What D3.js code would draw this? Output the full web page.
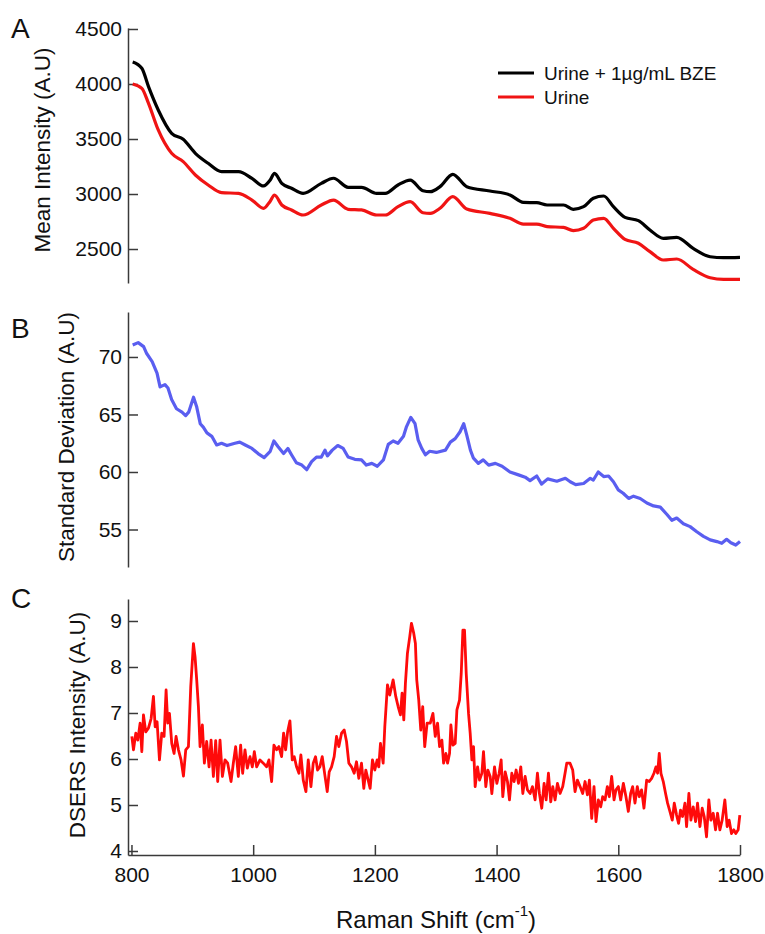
<!DOCTYPE html>
<meta charset="utf-8">
<style>
  body { margin: 0; background: #fff; }
  svg { font-family: "Liberation Sans", Arial, sans-serif; }
  .axis path, .axis line { stroke: #3a3a3a; stroke-width: 1.5; }
  .axis text { font-size: 21px; fill: #111; }
</style>
<svg width="765" height="934"></svg>
<script src="https://cdn.jsdelivr.net/npm/d3@7"></script>
<script>

// ---- panel A: mean spectra ----
var shiftA = [802, 817, 828, 844, 866, 885, 905, 926, 948, 976,
  998, 1017, 1028, 1035, 1047, 1063, 1082, 1112, 1132, 1156,
  1178, 1203, 1217, 1238, 1258, 1279, 1291, 1307, 1328, 1351,
  1389, 1422, 1444, 1466, 1483, 1510, 1526, 1543, 1559, 1576,
  1592, 1611, 1633, 1652, 1674, 1696, 1723, 1751, 1773, 1800];
var meanBZE = [4200, 4143, 3976, 3764, 3552, 3497, 3370, 3279, 3203, 3203,
  3142, 3073, 3127, 3188, 3097, 3052, 3006, 3097, 3143, 3061,
  3061, 3006, 3006, 3082, 3127, 3030, 3021, 3067, 3179, 3067,
  3027, 2991, 2924, 2921, 2900, 2900, 2861, 2885, 2961, 2982,
  2885, 2788, 2758, 2673, 2597, 2606, 2506, 2430, 2421, 2424];
var meanUrine = [4000, 3960, 3824, 3582, 3370, 3294, 3173, 3082, 3012, 3006,
  2945, 2870, 2935, 2991, 2900, 2855, 2809, 2900, 2945, 2861,
  2855, 2809, 2809, 2885, 2930, 2830, 2824, 2870, 2976, 2864,
  2824, 2779, 2727, 2727, 2703, 2697, 2667, 2688, 2764, 2779,
  2688, 2588, 2552, 2476, 2400, 2409, 2315, 2239, 2224, 2224];
var ticksA = [2500, 3000, 3500, 4000, 4500];

// ---- panel B: standard deviation ----
var shiftB = [802, 811, 820, 825, 834, 842, 847, 855, 860, 866,
  874, 883, 889, 894, 902, 907, 913, 918, 924, 932,
  940, 948, 957, 970, 978, 987, 998, 1008, 1018, 1028,
  1034, 1041, 1050, 1057, 1063, 1071, 1080, 1088, 1096, 1104,
  1112, 1118, 1122, 1130, 1139, 1148, 1156, 1167, 1178, 1186,
  1195, 1204, 1214, 1222, 1230, 1238, 1247, 1252, 1259, 1266,
  1271, 1277, 1283, 1290, 1301, 1316, 1324, 1332, 1340, 1346,
  1351, 1357, 1362, 1370, 1378, 1387, 1398, 1409, 1422, 1436,
  1447, 1455, 1466, 1474, 1484, 1499, 1513, 1521, 1530, 1543,
  1554, 1559, 1567, 1576, 1584, 1592, 1600, 1608, 1617, 1625,
  1636, 1647, 1658, 1669, 1680, 1688, 1696, 1707, 1718, 1729,
  1740, 1751, 1762, 1770, 1778, 1785, 1793, 1800];
var stdDev = [71.04, 71.25, 70.9, 70.3, 69.6, 68.6, 67.4, 67.6, 67.3, 66.3,
  65.5, 65.2, 64.9, 65.2, 66.5, 65.7, 64.2, 63.9, 63.4, 63.1,
  62.35, 62.5, 62.3, 62.5, 62.6, 62.35, 62.05, 61.6, 61.25, 61.8,
  62.7, 62.2, 61.6, 62.05, 61.5, 60.8, 60.6, 60.2, 60.9, 61.3,
  61.3, 61.9, 61.4, 61.9, 62.3, 62.05, 61.3, 61.1, 61.05, 60.6,
  60.75, 60.5, 61.05, 62.4, 62.7, 62.5, 63.1, 63.95, 64.75, 64.2,
  62.8, 62.05, 61.5, 61.8, 61.7, 61.9, 62.6, 62.9, 63.5, 64.2,
  63.2, 61.9, 61.2, 60.75, 61.05, 60.6, 60.75, 60.5, 60.0, 59.75,
  59.55, 59.25, 59.65, 58.95, 59.4, 59.2, 59.45, 59.15, 58.9, 59.0,
  59.45, 59.3, 60.0, 59.6, 59.65, 59.15, 58.45, 58.15, 57.7, 57.9,
  57.7, 57.3, 57.05, 56.95, 56.3, 55.8, 56.0, 55.5, 55.25, 54.8,
  54.4, 54.1, 53.95, 53.8, 54.15, 53.85, 53.65, 53.95];
var ticksB = [55, 60, 65, 70];

// ---- panel C: DSERS spectrum ----
var shiftC = [800.6, 803.3, 807.1, 810.4, 814.2, 817.0, 819.7, 823.5, 827.9, 832.3,
  836.1, 838.9, 842.1, 846.0, 849.8, 853.6, 856.9, 859.6, 862.4, 866.2,
  870.0, 873.3, 877.2, 881.5, 885.4, 889.2, 893.6, 897.4, 901.8, 904.5,
  907.2, 910.0, 912.7, 916.5, 919.8, 923.6, 927.5, 930.8, 934.6, 938.4,
  941.7, 945.5, 949.4, 953.7, 958.1, 963.6, 967.4, 971.2, 975.6, 979.4,
  982.7, 986.5, 990.4, 994.8, 998.6, 1001.9, 1005.7, 1011.2, 1016.6, 1022.1,
  1025.9, 1030.3, 1034.1, 1038.5, 1042.3, 1046.7, 1050.0, 1053.3, 1056.6, 1060.4,
  1064.2, 1067.5, 1071.3, 1075.2, 1078.4, 1082.3, 1086.7, 1090.5, 1094.9, 1098.7,
  1102.5, 1105.8, 1109.6, 1113.5, 1117.8, 1121.7, 1124.9, 1128.8, 1133.1, 1137.0,
  1140.8, 1145.2, 1149.6, 1153.4, 1157.2, 1161.6, 1166.0, 1169.8, 1173.6, 1178.0,
  1181.8, 1185.1, 1189.0, 1192.2, 1196.0, 1199.9, 1203.7, 1206.4, 1209.2, 1213.6,
  1216.3, 1220.7, 1224.5, 1230.0, 1234.3, 1238.2, 1242.0, 1244.7, 1247.5, 1250.2,
  1253.5, 1257.3, 1260.1, 1263.9, 1266.6, 1268.8, 1272.1, 1275.4, 1278.6, 1281.9,
  1285.8, 1291.0, 1295.4, 1299.2, 1303.0, 1306.3, 1310.1, 1312.9, 1316.7, 1319.4,
  1322.7, 1324.9, 1328.2, 1332.0, 1334.8, 1339.1, 1341.9, 1344.6, 1347.3, 1350.1,
  1353.9, 1356.6, 1359.4, 1362.1, 1364.8, 1368.7, 1372.0, 1375.8, 1378.5, 1382.3,
  1385.6, 1389.5, 1392.2, 1396.6, 1400.4, 1404.2, 1407.5, 1410.2, 1414.1, 1417.9,
  1421.2, 1425.0, 1428.8, 1432.1, 1436.0, 1439.8, 1443.1, 1446.9, 1450.7, 1455.1,
  1458.9, 1463.3, 1467.1, 1470.4, 1474.2, 1478.1, 1481.4, 1485.2, 1489.0, 1492.3,
  1496.1, 1500.0, 1504.3, 1508.7, 1512.5, 1515.3, 1520.7, 1525.1, 1528.9, 1532.8,
  1537.2, 1541.5, 1545.4, 1549.2, 1552.5, 1556.3, 1560.1, 1563.4, 1567.2, 1571.1,
  1574.3, 1578.2, 1582.0, 1585.3, 1589.1, 1593.0, 1596.2, 1600.1, 1603.9, 1608.3,
  1612.6, 1616.5, 1620.3, 1623.6, 1627.4, 1631.2, 1634.5, 1638.3, 1642.2, 1646.6,
  1650.9, 1654.8, 1658.6, 1661.9, 1664.6, 1667.3, 1670.1, 1673.9, 1677.7, 1681.0,
  1684.8, 1688.7, 1692.0, 1695.8, 1699.1, 1702.3, 1705.6, 1709.5, 1712.2, 1716.0,
  1719.3, 1723.1, 1727.0, 1730.2, 1734.1, 1737.9, 1741.2, 1745.0, 1748.8, 1752.1,
  1756.0, 1759.8, 1763.1, 1766.9, 1770.7, 1775.1, 1778.9, 1782.2, 1786.0, 1789.9,
  1793.1, 1797.0, 1799.7];
var dsers = [6.49, 6.20, 6.56, 6.41, 6.78, 6.16, 6.96, 6.59, 6.67, 6.88,
  7.36, 6.70, 6.81, 5.98, 6.56, 6.49, 7.50, 6.78, 6.99, 6.34,
  6.12, 6.49, 6.20, 5.98, 5.63, 6.20, 6.27, 7.57, 8.51, 8.22,
  7.72, 7.14, 6.27, 6.74, 5.91, 6.38, 5.83, 6.41, 5.62, 6.40,
  5.51, 6.41, 5.62, 5.98, 5.91, 5.51, 5.91, 6.27, 5.62, 6.30,
  5.69, 6.20, 5.80, 6.05, 5.83, 6.16, 5.83, 5.98, 5.91, 5.83,
  5.98, 5.51, 6.30, 6.20, 6.27, 6.05, 6.56, 6.20, 6.59, 6.83,
  5.98, 6.05, 5.83, 5.69, 6.09, 5.54, 5.29, 5.98, 5.40, 5.91,
  6.05, 5.76, 5.83, 6.05, 5.65, 5.29, 5.72, 5.83, 6.05, 6.49,
  6.27, 6.56, 6.63, 6.38, 5.91, 5.83, 5.69, 5.94, 5.58, 5.91,
  5.36, 5.76, 5.54, 5.36, 5.98, 5.76, 5.98, 5.83, 6.34, 5.91,
  6.70, 7.61, 7.39, 7.72, 7.36, 7.14, 6.96, 7.43, 6.85, 7.65,
  8.30, 8.66, 8.95, 8.73, 8.51, 7.72, 7.28, 6.63, 7.14, 6.27,
  6.78, 6.78, 6.99, 6.49, 6.78, 6.27, 6.41, 5.91, 6.12, 5.91,
  6.12, 6.74, 6.30, 6.34, 7.07, 7.28, 7.86, 8.80, 8.80, 7.86,
  6.99, 6.56, 5.98, 6.27, 5.40, 5.83, 5.54, 5.69, 6.16, 5.40,
  5.76, 5.62, 5.25, 5.83, 5.47, 5.69, 5.98, 5.18, 5.72, 5.51,
  5.11, 5.69, 5.51, 5.76, 5.47, 5.83, 5.25, 5.62, 5.33, 5.25,
  5.40, 5.11, 5.69, 5.25, 4.93, 5.47, 5.11, 5.69, 5.07, 5.40,
  5.11, 5.47, 5.25, 5.40, 5.69, 5.91, 5.91, 5.76, 5.29, 5.54,
  5.40, 5.25, 5.51, 5.22, 5.54, 4.71, 5.40, 4.64, 5.11, 4.96,
  5.18, 5.11, 5.40, 5.18, 5.62, 5.11, 5.33, 5.40, 5.11, 5.47,
  5.18, 4.86, 5.25, 5.40, 5.04, 5.40, 5.18, 5.33, 4.93, 5.54,
  5.51, 5.58, 5.69, 5.83, 5.69, 6.12, 5.69, 5.51, 5.25, 5.04,
  4.86, 4.67, 5.04, 4.78, 4.60, 4.89, 4.75, 5.04, 4.53, 5.25,
  4.67, 4.96, 4.64, 5.04, 4.53, 4.93, 4.75, 4.31, 5.11, 4.67,
  4.82, 4.46, 4.82, 4.46, 4.67, 5.11, 4.53, 4.67, 4.38, 4.46,
  4.38, 4.46, 4.78];
var ticksC = [4, 5, 6, 7, 8, 9];
var ticksX = [800, 1000, 1200, 1400, 1600, 1800];

var legendLabels = ["Urine + 1\u00b5g/mL BZE", "Urine"];
var colBZE = "#000000", colUrine = "#f01414", colStd = "#5a5ef0", colDsers = "#ff0a0a";

var svg = d3.select("svg");
var fmt = d3.format("d");

var x = d3.scaleLinear().domain([794.3, 1800]).range([128, 740]);
var yA = d3.scaleLinear().domain([2191, 4509]).range([283, 28]);
var yB = d3.scaleLinear().domain([51.74, 73.91]).range([567, 312]);
var yC = d3.scaleLinear().domain([3.913, 9.478]).range([855, 599]);

function leftAxis(scale, ticks) {
  return svg.append("g")
      .attr("class", "axis")
      .attr("transform", "translate(128,0)")
      .call(d3.axisLeft(scale).tickValues(ticks).tickFormat(fmt)
        .tickSizeInner(-10).tickSizeOuter(0).tickPadding(6));
}

leftAxis(yA, ticksA);
leftAxis(yB, ticksB);
leftAxis(yC, ticksC);

svg.append("g")
    .attr("class", "axis")
    .attr("transform", "translate(0,855)")
    .call(d3.axisBottom(x).tickValues(ticksX).tickFormat(fmt)
      .tickSizeInner(-10).tickSizeOuter(0).tickPadding(12));

function drawLine(xs, ys, yScale, color, width, curve) {
  var pts = xs.map(function(d, i) { return [d, ys[i]]; });
  svg.append("path")
      .datum(pts)
      .attr("fill", "none")
      .attr("stroke", color)
      .attr("stroke-width", width)
      .attr("stroke-linejoin", "round")
      .attr("d", d3.line()
        .x(function(d) { return x(d[0]); })
        .y(function(d) { return yScale(d[1]); })
        .curve(curve || d3.curveLinear));
}

drawLine(shiftA, meanUrine, yA, colUrine, 3.2, d3.curveMonotoneX);
drawLine(shiftA, meanBZE, yA, colBZE, 3.2, d3.curveMonotoneX);
drawLine(shiftB, stdDev, yB, colStd, 3.2);
drawLine(shiftC, dsers, yC, colDsers, 2.8);

// legend
var legend = svg.append("g")
  .selectAll("g")
  .data(legendLabels)
  .enter().append("g")
    .attr("transform", function(d, i) { return "translate(498," + (73 + i * 24) + ")"; });

legend.append("line")
    .attr("x1", 0).attr("x2", 36)
    .attr("stroke", function(d, i) { return i ? colUrine : colBZE; })
    .attr("stroke-width", 3);

legend.append("text")
    .attr("x", 46)
    .attr("dy", "0.35em")
    .attr("font-size", 19)
    .attr("fill", "#111")
    .text(function(d) { return d; });

// axis titles
function yTitle(txt, tx, ty) {
  svg.append("text")
      .attr("transform", "translate(" + tx + "," + ty + ") rotate(-90)")
      .attr("text-anchor", "middle")
      .attr("font-size", 22.5)
      .attr("fill", "#111")
      .text(txt);
}
yTitle("Mean Intensity (A.U)", 50, 150);
yTitle("Standard Deviation (A.U)", 74, 437);
yTitle("DSERS Intensity (A.U)", 85, 725);

var xt = svg.append("text")
    .attr("x", 436)
    .attr("y", 928)
    .attr("text-anchor", "middle")
    .attr("font-size", 24)
    .attr("fill", "#111");
xt.append("tspan").text("Raman Shift (cm");
xt.append("tspan").attr("dy", -12).attr("font-size", 15).text("-1");
xt.append("tspan").attr("dy", 12).text(")");

// panel letters
[["A", 38], ["B", 338], ["C", 608]].forEach(function(p) {
  svg.append("text")
      .attr("x", 11)
      .attr("y", p[1])
      .attr("font-size", 28)
      .attr("fill", "#111")
      .text(p[0]);
});

</script>
